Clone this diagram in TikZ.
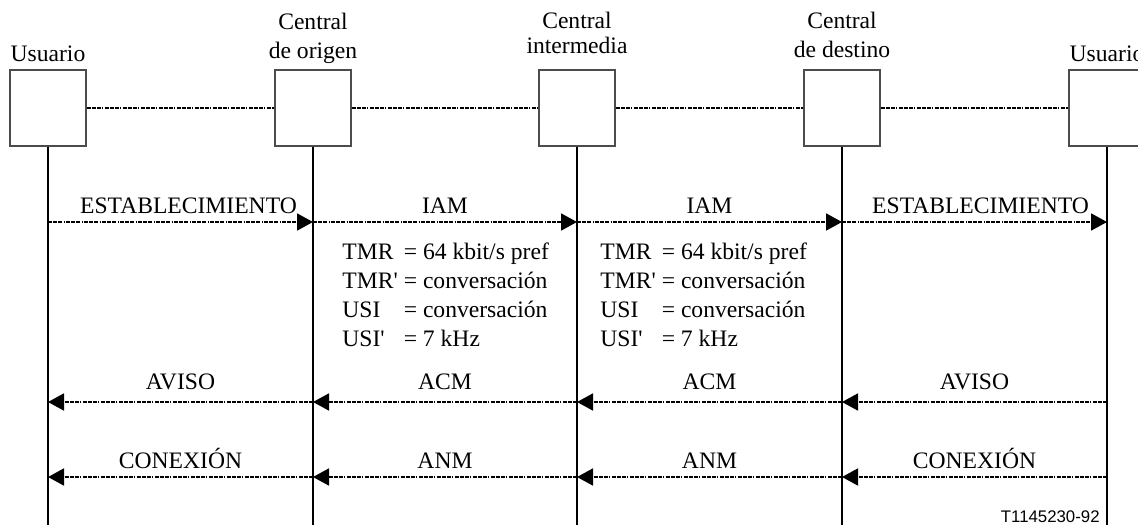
\documentclass[tikz,border=0pt]{standalone}
\usepackage{fontspec}
\setmainfont{Liberation Serif}
\newfontfamily\refsans{Liberation Sans}
\usetikzlibrary{arrows.meta}
\tikzset{>={Triangle[length=8pt,width=8.5pt]}}

\begin{document}
\begin{tikzpicture}[x=0.5pt,y=-0.5pt,
  font=\fontsize{11.8}{14.5}\selectfont,
  station/.style={draw=black!70,line width=0.6pt,minimum width=38pt,minimum height=38pt,inner sep=0pt,fill=white},
  link/.style={line width=0.9pt,dash pattern=on 2pt off 0.6pt on 2pt off 0.6pt on 2pt off 0.6pt on 0.6pt off 0.6pt},
  msg/.style={link,->},
  lifeline/.style={line width=1pt},
  stname/.style={anchor=base,align=center}]

  % frame
  \useasboundingbox (0,0) rectangle (1138,525);
  \clip (0,0) rectangle (1138,525);

  % help functions
        % message arrow between two lifelines, label above
  \def\msgArrow(#1,#2,#3,#4,#5){
    \draw[msg] (#1 |- #3) -- (#2 |- #3)
      node[midway,anchor=base,yshift=#5] {#4};}

  % rows
  \coordinate (establ) at (0,222);
  \coordinate (aviso) at (0,402);
  \coordinate (conex) at (0,477);
  \coordinate (bottom) at (0,525);

  % stations
  \node[station] (usrA) at (48,108) {};
  \node[station] (origen) at (313,108) {};
  \node[station] (inter) at (577,108) {};
  \node[station] (destino) at (842,108) {};
  \node[station] (usrB) at (1107,108) {};

  \node[stname] (usrAname) at (48,61) {Usuario};
  \node[stname] (origenname) at (313,58) {Central\\de origen};
  \node[stname] (intername) at (577,53) {Central\\[-2pt]intermedia};
  \node[stname] (destinoname) at (842,57) {Central\\de destino};
  \node[stname] (usrBname) at (1107,61) {Usuario};

  % links between stations
  \draw[link] (usrA) -- (origen);
  \draw[link] (origen) -- (inter);
  \draw[link] (inter) -- (destino);
  \draw[link] (destino) -- (usrB);

  % lifelines
  \foreach \st in {usrA,origen,inter,destino,usrB}
    \draw[lifeline] (\st.south) -- (\st.south |- bottom);

  % MESSAGES
    \msgArrow(usrA,origen,establ,ESTABLECIMIENTO\hspace*{-8pt},4.5pt)
    \msgArrow(origen,inter,establ,IAM,4.5pt)
    \msgArrow(inter,destino,establ,IAM,4.5pt)
    \msgArrow(destino,usrB,establ,\hspace*{6pt}ESTABLECIMIENTO,4.5pt)

    \msgArrow(usrB,destino,aviso,AVISO,6.5pt)
    \msgArrow(destino,inter,aviso,ACM,6.5pt)
    \msgArrow(inter,origen,aviso,ACM,6.5pt)
    \msgArrow(origen,usrA,aviso,AVISO,6.5pt)

    \msgArrow(usrB,destino,conex,CONEXIÓN,4.5pt)
    \msgArrow(destino,inter,conex,ANM,4.5pt)
    \msgArrow(inter,origen,conex,ANM,4.5pt)
    \msgArrow(origen,usrA,conex,CONEXIÓN,4.5pt)

  % PARAMETERS
  \node[anchor=base west,inner sep=0pt] (paramsA) at (342,259) {%
    \begin{tabular}[t]{@{}l@{\hspace{3pt}}l@{}}
      TMR & = 64 kbit/s pref\\
      TMR\textquotesingle & = conversación\\
      USI & = conversación\\
      USI\textquotesingle & = 7 kHz
    \end{tabular}};
  \node[anchor=base west,inner sep=0pt] (paramsB) at (600,259) {%
    \begin{tabular}[t]{@{}l@{\hspace{3pt}}l@{}}
      TMR & = 64 kbit/s pref\\
      TMR\textquotesingle & = conversación\\
      USI & = conversación\\
      USI\textquotesingle & = 7 kHz
    \end{tabular}};

  % figure number
  \node[anchor=base east,inner sep=0pt,font=\refsans\fontsize{8.4}{10}\selectfont] (figid) at (1100,522) {T1145230-92};

\end{tikzpicture}
\end{document}
